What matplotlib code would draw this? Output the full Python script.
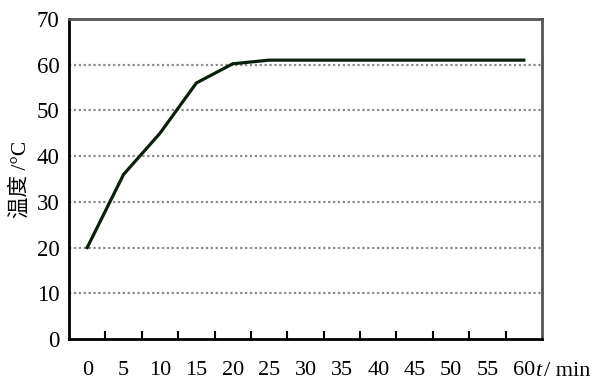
import numpy as np
import matplotlib.pyplot as plt

# heating curve: temperature vs time (category axis, one slot per 5 min)
times = [0, 5, 10, 15, 20, 25, 30, 35, 40, 45, 50, 55, 60]
temps = [20, 36, 45, 56, 60.2, 61, 61, 61, 61, 61, 61, 61, 61]
yticks = [0, 10, 20, 30, 40, 50, 60, 70]

serif = ['Liberation Serif', 'Noto Sans CJK SC']

fig = plt.figure(figsize=(5.92, 3.81), dpi=100)
ax = fig.add_axes([69 / 592, 42 / 381, 473 / 592, 320 / 381])

pos = np.arange(len(times))
ax.plot(pos, temps, color='#0c1f0c', lw=2.3, solid_joinstyle='round', zorder=3)

ax.set_xlim(-0.5, len(times) - 0.5)
ax.set_ylim(0, 70)

# dotted horizontal grid
for y in yticks[1:-1]:
    ax.axhline(y, color='#8a8a8a', lw=1.6, ls=(0, (1, 1.2)), zorder=1)

ax.set_yticks(yticks)
ax.set_yticklabels([str(v) for v in yticks], family=serif, fontsize=16.5)
ax.tick_params(axis='y', length=0, pad=7)

ax.set_xticks(pos)
ax.set_xticklabels([str(t) for t in times], family=serif, fontsize=16)
ax.tick_params(axis='x', which='major', length=0, pad=16)
ax.set_xticks(pos[:-1] + 0.5, minor=True)
ax.tick_params(axis='x', which='minor', direction='in', length=6, width=1.5, color='black')

for s in ['left', 'bottom']:
    ax.spines[s].set_color('black')
    ax.spines[s].set_linewidth(2)
for s in ['top', 'right']:
    ax.spines[s].set_color('#555555')
    ax.spines[s].set_linewidth(2)

ax.set_ylabel('温度 /°C', family=serif, fontsize=15.5, labelpad=4)

# axis unit next to the last tick label
ty = 1 - 372 / 381
fig.text(535 / 592, ty, 't', family='Liberation Serif', style='italic', fontsize=16, va='center', ha='left')
fig.text(544 / 592, ty, '/ min', family='Liberation Serif', fontsize=16, va='center', ha='left')

fig.savefig('out.png', dpi=100)
